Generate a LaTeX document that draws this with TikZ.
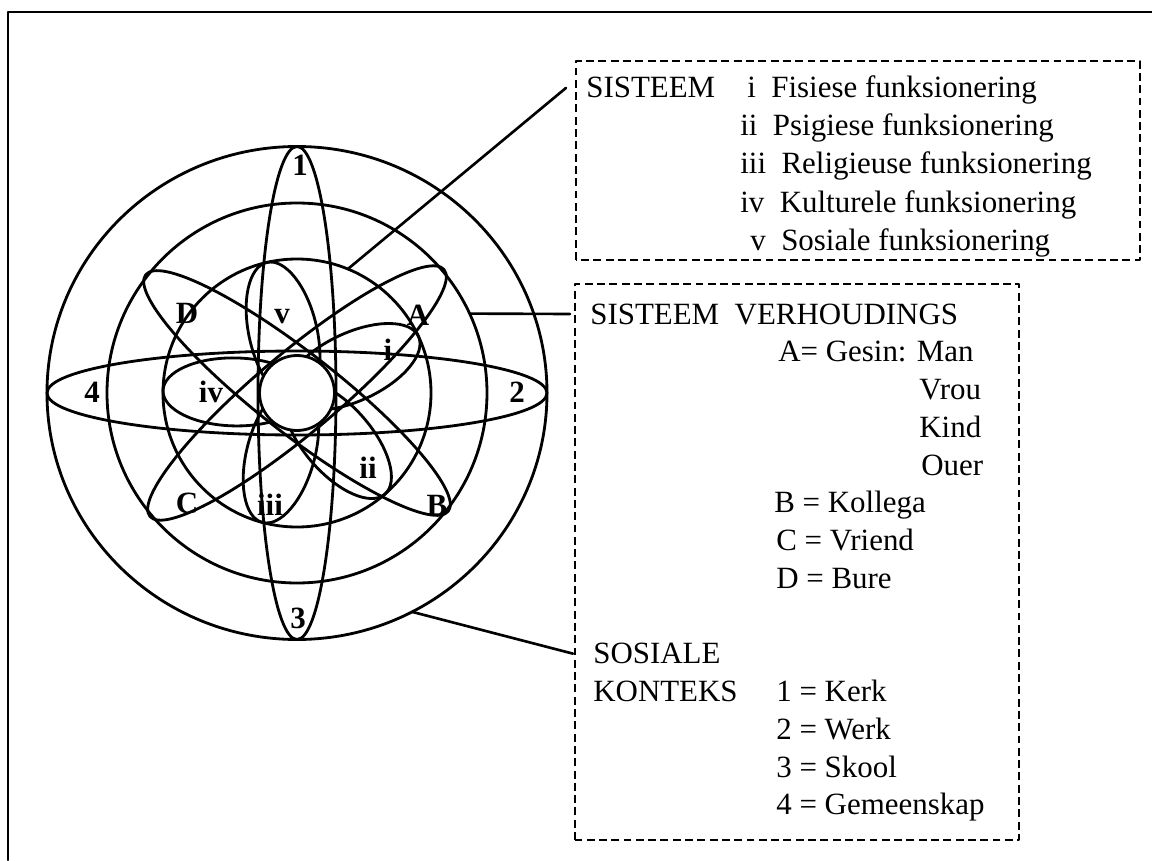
\documentclass[tikz,border=0pt]{standalone}
\usepackage{fontspec}
\setmainfont{Liberation Serif}

\begin{document}
\begin{tikzpicture}[
  font=\fontsize{17.6}{21}\selectfont, line cap=round, line join=round,
  ring/.style={line width=1.6pt},
  lbl/.style={font=\fontsize{17.6}{21}\selectfont\bfseries, inner sep=0pt},
  txt/.style={anchor=base west, inner sep=0pt},
  hdr/.style={anchor=base west, inner xsep=0.4cm, inner ysep=0pt},
  legbox/.style={line width=1.1pt, line cap=butt, dash pattern=on 4.5pt off 2.5pt},
  lead/.style={line width=1.5pt}]

\useasboundingbox (-5.94,-9.34) rectangle (17.10,7.86);
\draw[ring] (-5.78,-9.34) -- (-5.78,7.62) -- (17.10,7.62);

% ================================================ rings and orbits
\draw[ring] (0,0) ellipse (5.0 and 4.93);
\draw[ring] (0,0) circle (3.8);
\draw[ring] (0,0) circle (2.68);
% social context 1-4
\draw[ring] (0,0) ellipse (5.0 and 0.84);
\draw[ring] (0,0) ellipse (0.78 and 4.93);
% relations A-D
\draw[ring, rotate=40] (0,0) ellipse (3.84 and 0.8);
\draw[ring, rotate=-38] (0,0) ellipse (3.84 and 0.8);
% system i-v
\foreach \a in {25,103,179,255,311}
  \draw[ring, rotate=\a] (1.24,0) ellipse (1.44 and 0.68);
\node[circle, draw, ring, fill=white, minimum size=1.5cm, inner sep=0pt] (core) at (0,0) {};

\foreach \t/\x/\y in {1/0.06/4.56, 2/4.40/0.02, 3/0.02/-4.50, 4/-4.10/0.02,
                      A/2.42/1.56, B/2.80/-2.24, C/-2.20/-2.20, D/-2.20/1.60,
                      i/1.82/0.86, ii/1.42/-1.50, iii/-0.54/-2.24, iv/-1.72/0.02, v/-0.30/1.52}
  \node[lbl] (l\t) at (\x,\y) {\t};

% ================================================ legend: sisteem
\draw[legbox] (5.58,2.66) rectangle (16.86,6.64);
\node[hdr] (sisHdr) at (5.38,5.90) {SISTEEM};
\foreach \nm/\x/\y/\t in {i/9.00/5.90/Fisiese, ii/8.86/5.14/Psigiese, iii/8.86/4.38/Religieuse,
                          iv/8.86/3.62/Kulturele, v/9.06/2.86/Sosiale}
  \node[txt] (f\nm) at (\x,\y) {\nm~~\t{} funksionering};

% ================================================ legend: verhoudings en konteks
\draw[legbox] (5.56,-8.94) rectangle (14.44,2.18);
\node[hdr] (verHdr) at (5.46,1.38) {SISTEEM~~VERHOUDINGS};
\node[txt] (rA) at (9.62,0.625) {A= Gesin: Man};
\node[txt] (rVrou) at (12.44,-0.13) {Vrou};
\node[txt] (rKind) at (12.44,-0.885) {Kind};
\node[txt] (rOuer) at (12.48,-1.64) {Ouer};
\node[txt] (rB) at (9.54,-2.395) {B = Kollega};
\node[txt] (rC) at (9.58,-3.15) {C = Vriend};
\node[txt] (rD) at (9.58,-3.905) {D = Bure};

\node[hdr] (sosHdr) at (5.52,-5.415) {SOSIALE};
\node[txt] (kHdr) at (5.92,-6.17) {KONTEKS};
\foreach \n/\y/\t in {1/-6.17/Kerk, 2/-6.925/Werk, 3/-7.68/Skool, 4/-8.435/Gemeenskap}
  \node[txt] (k\n) at (9.58,\y) {\n{} = \t};

% ================================================ leaders
\coordinate (onInner) at (67.7:2.68);
\coordinate (onMid) at (24.7:3.8);
\coordinate (onOuter) at (-62.6:5.0 and 4.93);
\draw[lead] (onInner) -- (sisHdr.west);
\draw[lead] (onMid) -- (verHdr.west);
\draw[lead] (onOuter) -- (sosHdr.west);

\end{tikzpicture}
\end{document}
